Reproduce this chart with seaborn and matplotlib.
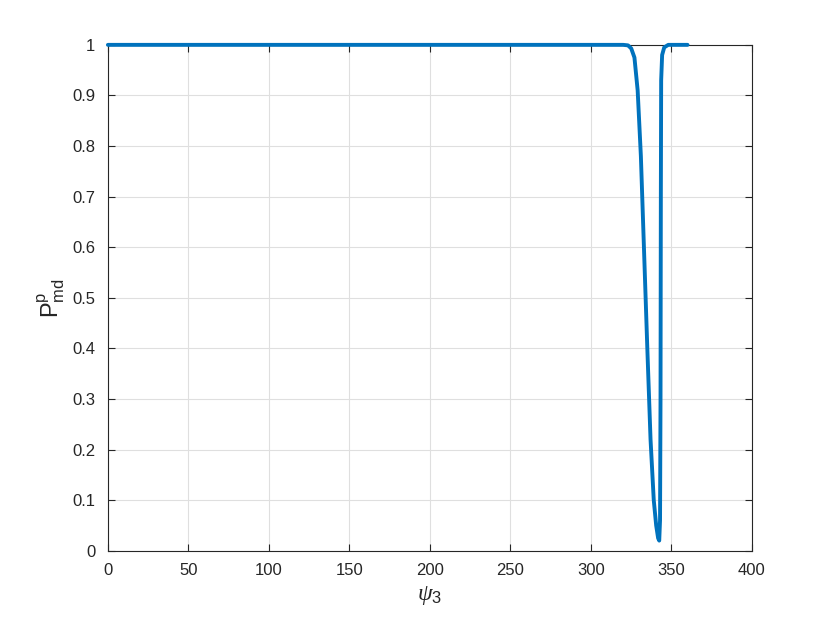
import numpy as np
import pandas as pd
import seaborn as sns
import matplotlib
matplotlib.use('Agg')
import matplotlib.pyplot as plt

# values
psi3 = [0, 100, 200, 300, 320, 323, 325, 327, 329, 331, 333, 335, 337, 339,
        340.5, 341.7, 342.4, 342.9, 343.2, 343.4, 343.6, 344.2, 345.5, 348, 360]
p_md = [1.0, 1.0, 1.0, 1.0, 1.0, 0.999, 0.993, 0.975, 0.91, 0.78, 0.59, 0.40,
        0.22, 0.10, 0.05, 0.025, 0.02, 0.06, 0.3, 0.7, 0.93, 0.98, 0.995, 1.0, 1.0]

xticks = np.arange(0, 401, 50)
yticks = np.round(np.arange(0, 1.01, 0.1), 1)

sns.set_style('white')
plt.rcParams['font.family'] = ['Liberation Sans', 'DejaVu Sans']
plt.rcParams['mathtext.fontset'] = 'custom'
plt.rcParams['mathtext.rm'] = 'Liberation Sans'
plt.rcParams['mathtext.it'] = 'Liberation Serif:italic'
plt.rcParams['mathtext.sf'] = 'Liberation Sans'

df = pd.DataFrame({'psi': psi3, 'p': p_md})

fig = plt.figure(figsize=(8.3, 6.23), dpi=100)
ax = fig.add_axes([0.130, 0.116, 0.776, 0.812])
sns.lineplot(data=df, x='psi', y='p', ax=ax, color='#0072BD', linewidth=2.8,
             sort=False, zorder=3)
for ln in ax.get_lines():
    ln.set_clip_on(False)

ax.set_xlim(0, 400)
ax.set_ylim(0, 1)
ax.set_xticks(xticks)
ax.set_yticks(yticks)
ax.set_xticklabels([str(v) for v in xticks])
ax.set_yticklabels(['0'] + [f'{v:g}' for v in yticks[1:-1]] + ['1'])
ax.grid(True, color='#dfdfdf', linewidth=0.8)
ax.set_axisbelow(True)
ax.tick_params(direction='in', length=5, width=0.8, colors='#262626',
               labelsize=12, top=True, right=True, bottom=True, left=True,
               labeltop=False, labelright=False)
ax.tick_params(axis='x', pad=9)
ax.tick_params(axis='y', pad=9)
for s in ax.spines.values():
    s.set_visible(True)
    s.set_edgecolor('#262626')
    s.set_linewidth(0.8)

ax.set_xlabel(r'$\psi_3$', fontsize=17, color='#262626', labelpad=4)
ax.set_ylabel(r'$\mathrm{P}^{\mathrm{p}}_{\mathrm{md}}$', fontsize=17,
              color='#262626', labelpad=4)

fig.savefig('out.png', dpi=100)
